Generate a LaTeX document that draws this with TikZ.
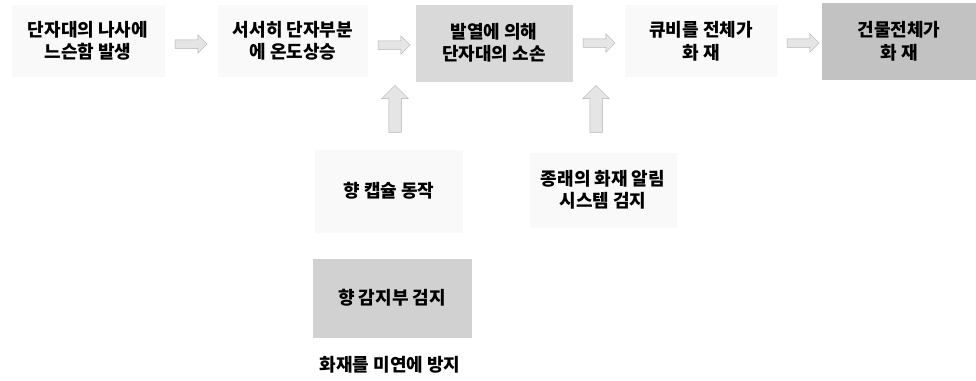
\documentclass[tikz,border=0pt]{standalone}
\usepackage{fontspec}
\setmainfont{Noto Sans CJK KR}
\usetikzlibrary{shapes.arrows}
\begin{document}
\begin{tikzpicture}[x=1pt,y=-1pt,
  txt/.style={font=\bfseries\fontsize{18}{22.5}\selectfont, align=center, text=black},
  faint/.style={txt, fill=gray!5, inner sep=0pt},
  midbox/.style={txt, fill=gray!30, inner sep=0pt},
  darkbox/.style={txt, fill=gray!48, inner sep=0pt},
  harrow/.style={single arrow, draw=gray!60, fill=gray!20, line width=0.5pt,
     minimum height=32pt, inner sep=4pt, single arrow head extend=5pt},
  varrow/.style={single arrow, draw=gray!60, fill=gray!20, line width=0.5pt,
     minimum height=47pt, inner sep=6pt, single arrow head extend=7pt,
     shape border rotate=90}
]
\useasboundingbox (0,0) rectangle (976,380);
\node[faint, minimum width=153pt, minimum height=72pt] (b1) at (88,41) {단자대의 나사에\\느슨함 발생};
\node[faint, minimum width=150pt, minimum height=72pt] (b2) at (293,41) {서서히 단자부분\\에 온도상승};
\node[midbox, minimum width=157pt, minimum height=77pt] (b3) at (494,43) {발열에 의해\\단자대의 소손};
\node[faint, minimum width=152pt, minimum height=72pt] (b4) at (701,41) {큐비를 전체가\\화 재};
\node[darkbox, minimum width=154pt, minimum height=77pt] (b5) at (899,41) {건물전체가\\화 재};

\node[harrow] (a1) at (189,44) {};
\node[harrow] (a2) at (392,45) {};
\node[harrow] (a3) at (597,43) {};
\node[harrow] (a4) at (801,43) {};

\node[varrow] (u1) at (395,112) {};
\node[varrow] (u2) at (596,112) {};

\node[faint, minimum width=148pt, minimum height=83pt] (c1) at (389,191) {향 캡슐 동작};
\node[faint, minimum width=147pt, minimum height=75pt] (c2) at (603,190) {종래의 화재 알림\\시스템 검지};
\node[midbox, fill=gray!36, minimum width=159pt, minimum height=79pt] (d) at (392,298) {향 감지부 검지};
\node[txt] (e) at (390,365) {화재를 미연에 방지};
\end{tikzpicture}
\end{document}
